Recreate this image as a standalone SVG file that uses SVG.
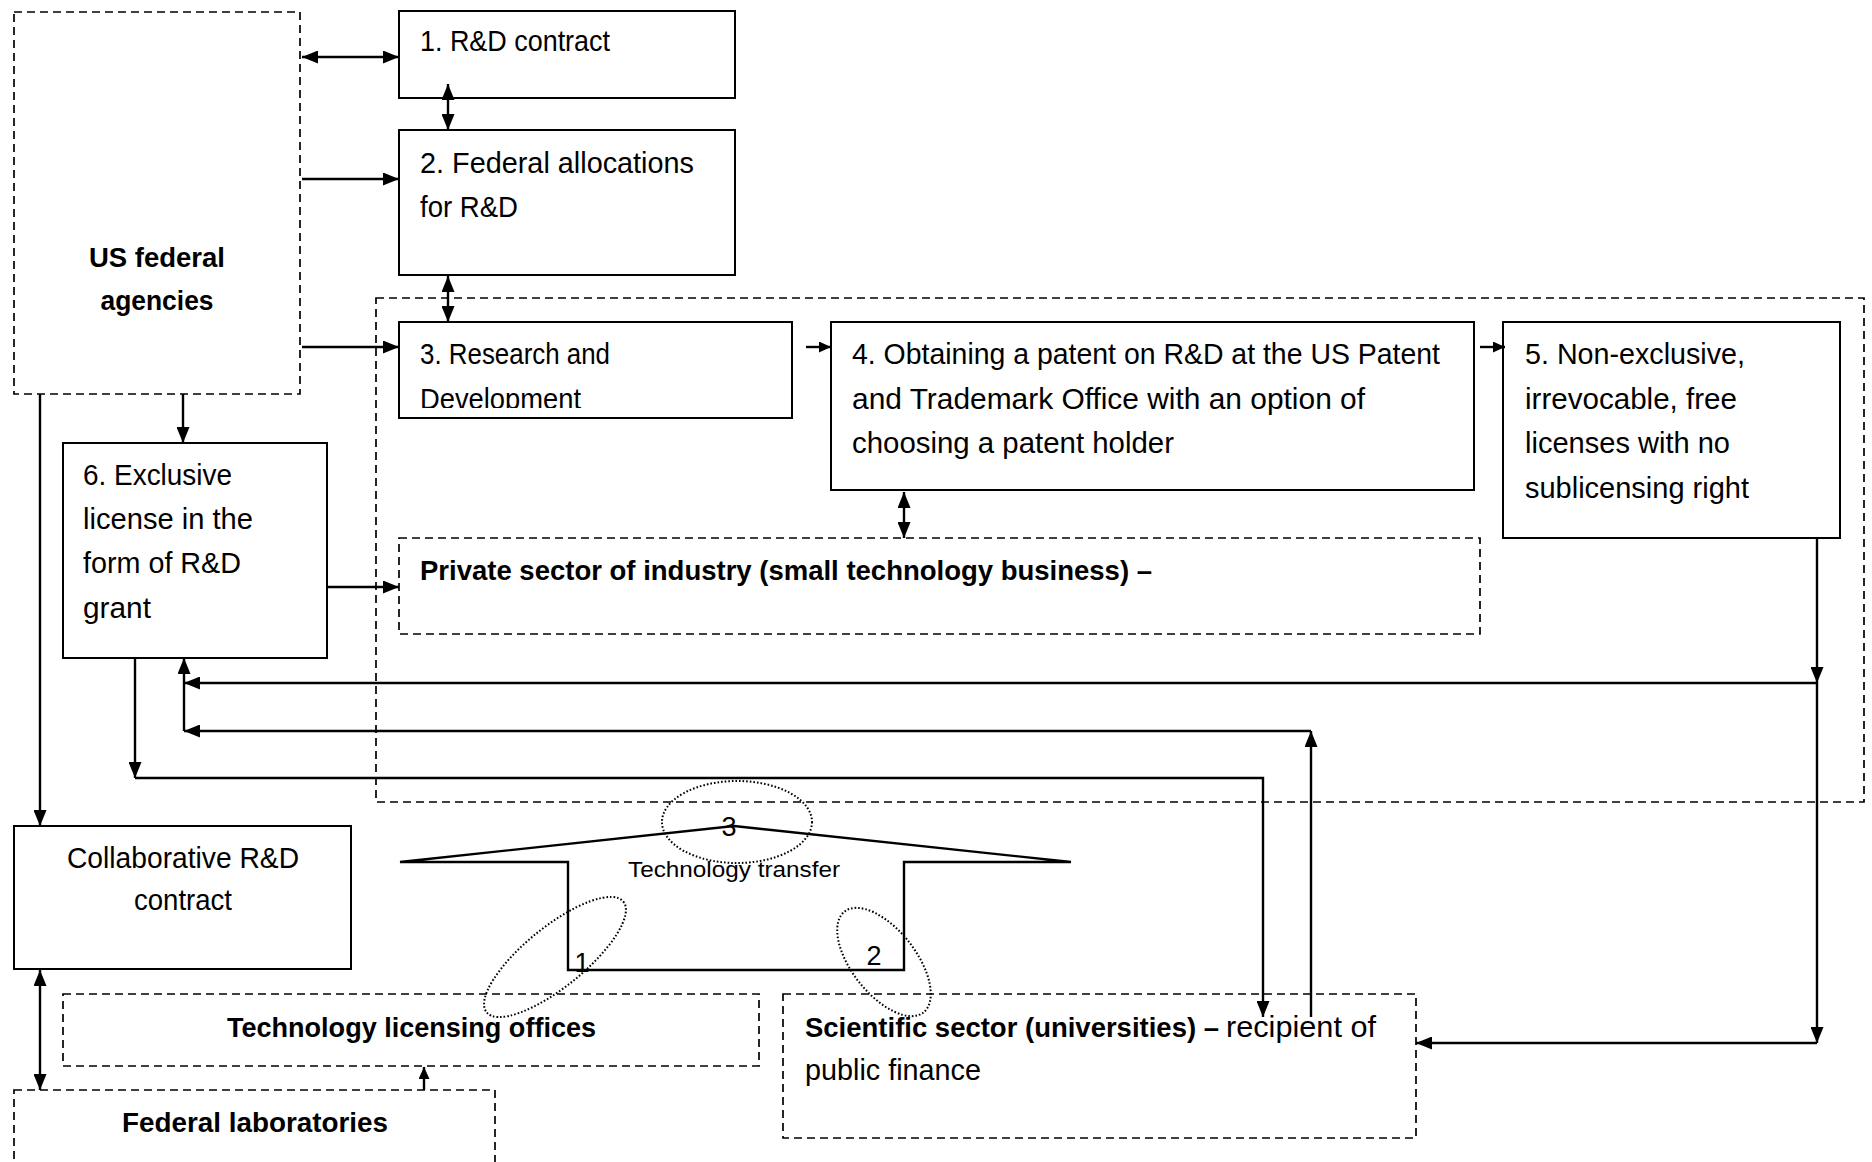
<svg xmlns="http://www.w3.org/2000/svg" width="1872" height="1162" viewBox="0 0 1872 1162">
  <style>
    .box { fill: #fff; stroke: #000; stroke-width: 2; }
    .dbox { fill: none; stroke: #000; stroke-width: 1.7; stroke-dasharray: 8 5; }
    .dot { fill: none; stroke: #000; stroke-width: 2; stroke-dasharray: 1.6 2; }
    .ln { fill: none; stroke: #000; stroke-width: 2.4; }
    .t { font-family: "Liberation Sans", Arial, sans-serif; font-size: 29px; fill: #000; }
    .b { font-family: "Liberation Sans", Arial, sans-serif; font-size: 28px; font-weight: bold; fill: #000; }
    .s { font-family: "Liberation Sans", Arial, sans-serif; font-size: 22px; fill: #000; }
    .n { font-family: "Liberation Sans", Arial, sans-serif; font-size: 27px; fill: #000; text-anchor: middle; }
  </style>
  <defs>
    <marker id="arr" markerUnits="userSpaceOnUse" markerWidth="16" markerHeight="13" refX="16" refY="6.5" orient="auto-start-reverse">
      <path d="M0,0 L16,6.5 L0,13 z" fill="#000"/>
    </marker>
    <marker id="arrS" markerUnits="userSpaceOnUse" markerWidth="12" markerHeight="11" refX="12" refY="5.5" orient="auto-start-reverse">
      <path d="M0,0 L12,5.5 L0,11 z" fill="#000"/>
    </marker>
    <clipPath id="clip3">
      <rect x="399" y="322" width="393" height="86"/>
    </clipPath>
  </defs>
  <rect width="1872" height="1162" fill="#fff"/>

  <!-- outer dashed frame around the R&D chain -->
  <rect id="frame" class="dbox" x="376" y="298" width="1488" height="504"/>

  <g id="agencies">
    <rect class="dbox" x="14" y="12" width="286" height="382"/>
    <text class="b" x="157" y="267" text-anchor="middle" textLength="136" lengthAdjust="spacingAndGlyphs">US federal</text>
    <text class="b" x="157" y="310" text-anchor="middle" textLength="113" lengthAdjust="spacingAndGlyphs">agencies</text>
  </g>

  <g id="n1">
    <rect class="box" x="399" y="11" width="336" height="87"/>
    <text class="t" x="420" y="51" textLength="190" lengthAdjust="spacingAndGlyphs">1. R&amp;D contract</text>
  </g>

  <g id="n2">
    <rect class="box" x="399" y="130" width="336" height="145"/>
    <text class="t" x="420" y="173" textLength="274" lengthAdjust="spacingAndGlyphs">2. Federal allocations</text>
    <text class="t" x="420" y="217" textLength="98" lengthAdjust="spacingAndGlyphs">for R&amp;D</text>
  </g>

  <g id="n3">
    <rect class="box" x="399" y="322" width="393" height="96"/>
    <text class="t" x="420" y="364" textLength="190" lengthAdjust="spacingAndGlyphs">3. Research and</text>
    <text class="t" x="420" y="409" textLength="161" lengthAdjust="spacingAndGlyphs" clip-path="url(#clip3)">Development</text>
  </g>

  <g id="n4">
    <rect class="box" x="831" y="322" width="643" height="168"/>
    <text class="t" x="852" y="364" textLength="588" lengthAdjust="spacingAndGlyphs">4. Obtaining a patent on R&amp;D at the US Patent</text>
    <text class="t" x="852" y="409" textLength="513" lengthAdjust="spacingAndGlyphs">and Trademark Office with an option of</text>
    <text class="t" x="852" y="453" textLength="322" lengthAdjust="spacingAndGlyphs">choosing a patent holder</text>
  </g>

  <g id="n5">
    <rect class="box" x="1503" y="322" width="337" height="216"/>
    <text class="t" x="1525" y="364" textLength="220" lengthAdjust="spacingAndGlyphs">5. Non-exclusive,</text>
    <text class="t" x="1525" y="409" textLength="212" lengthAdjust="spacingAndGlyphs">irrevocable, free</text>
    <text class="t" x="1525" y="453" textLength="205" lengthAdjust="spacingAndGlyphs">licenses with no</text>
    <text class="t" x="1525" y="498" textLength="224" lengthAdjust="spacingAndGlyphs">sublicensing right</text>
  </g>

  <g id="n6">
    <rect class="box" x="63" y="443" width="264" height="215"/>
    <text class="t" x="83" y="485" textLength="149" lengthAdjust="spacingAndGlyphs">6. Exclusive</text>
    <text class="t" x="83" y="529" textLength="170" lengthAdjust="spacingAndGlyphs">license in the</text>
    <text class="t" x="83" y="573" textLength="158" lengthAdjust="spacingAndGlyphs">form of R&amp;D</text>
    <text class="t" x="83" y="618" textLength="68" lengthAdjust="spacingAndGlyphs">grant</text>
  </g>

  <g id="private">
    <rect class="dbox" x="399" y="538" width="1081" height="96"/>
    <text class="b" x="420" y="580" textLength="732" lengthAdjust="spacingAndGlyphs">Private sector of industry (small technology business) –</text>
  </g>

  <g id="collab">
    <rect class="box" x="14" y="826" width="337" height="143"/>
    <text class="t" x="183" y="868" text-anchor="middle" textLength="232" lengthAdjust="spacingAndGlyphs">Collaborative R&amp;D</text>
    <text class="t" x="183" y="910" text-anchor="middle" textLength="98" lengthAdjust="spacingAndGlyphs">contract</text>
  </g>

  <g id="tlo">
    <rect class="dbox" x="63" y="994" width="696" height="72"/>
    <text class="b" x="227" y="1037" textLength="369" lengthAdjust="spacingAndGlyphs">Technology licensing offices</text>
  </g>

  <g id="labs">
    <rect class="dbox" x="14" y="1090" width="481" height="80"/>
    <text class="b" x="122" y="1132" textLength="266" lengthAdjust="spacingAndGlyphs">Federal laboratories</text>
  </g>

  <g id="science">
    <rect class="dbox" x="783" y="994" width="633" height="144"/>
    <text class="b" x="805" y="1037" textLength="414" lengthAdjust="spacingAndGlyphs">Scientific sector (universities) –</text>
    <text class="t" x="1226" y="1037" textLength="150" lengthAdjust="spacingAndGlyphs">recipient of</text>
    <text class="t" x="805" y="1080" textLength="176" lengthAdjust="spacingAndGlyphs">public finance</text>
  </g>

  <g id="transfer">
    <path class="ln" d="M400,862 L734,826 L1071,862 L904,862 L904,970 L568,970 L568,862 Z"/>
    <text class="s" x="628" y="877" textLength="212" lengthAdjust="spacingAndGlyphs">Technology transfer</text>
    <text class="n" x="729" y="836">3</text>
    <text class="n" x="582" y="972">1</text>
    <text class="n" x="874" y="965">2</text>
    <ellipse class="dot" cx="737" cy="822" rx="75" ry="41"/>
    <ellipse class="dot" cx="555" cy="957" rx="88" ry="30" transform="rotate(-39 555 957)"/>
    <ellipse class="dot" cx="884" cy="962" rx="64" ry="32" transform="rotate(52 884 962)"/>
  </g>

  <g id="connectors">
    <path class="ln" d="M302,57 H399" marker-start="url(#arr)" marker-end="url(#arr)"/>
    <path class="ln" d="M448,84 V130" marker-start="url(#arr)" marker-end="url(#arr)"/>
    <path class="ln" d="M302,179 H399" marker-end="url(#arr)"/>
    <path class="ln" d="M448,276 V322" marker-start="url(#arr)" marker-end="url(#arr)"/>
    <path class="ln" d="M302,347 H399" marker-end="url(#arr)"/>
    <path class="ln" d="M806,347 H831" marker-end="url(#arrS)"/>
    <path class="ln" d="M1480,347 H1505" marker-end="url(#arrS)"/>
    <path class="ln" d="M904,492 V538" marker-start="url(#arr)" marker-end="url(#arr)"/>
    <path class="ln" d="M183,394 V443" marker-end="url(#arr)"/>
    <path class="ln" d="M40,394 V826" marker-end="url(#arr)"/>
    <path class="ln" d="M327,587 H399" marker-end="url(#arr)"/>
    <!-- licences from node 5 back to the grant and on to the universities -->
    <path class="ln" d="M1817,538 V683" marker-end="url(#arr)"/>
    <path class="ln" d="M1817,683 V1043" marker-end="url(#arr)"/>
    <path class="ln" d="M1817,683 H184" marker-end="url(#arr)"/>
    <path class="ln" d="M1817,1043 H1416" marker-end="url(#arr)"/>
    <!-- universities back to node 6 -->
    <path class="ln" d="M1311,1017 V731" marker-end="url(#arr)"/>
    <path class="ln" d="M1311,731 H184" marker-end="url(#arr)"/>
    <path class="ln" d="M184,731 V658" marker-end="url(#arr)"/>
    <!-- node 6 down to the universities -->
    <path class="ln" d="M135,658 V778" marker-end="url(#arr)"/>
    <path class="ln" d="M135,778 H1263 V1017" marker-end="url(#arr)"/>
    <path class="ln" d="M40,970 V1090" marker-start="url(#arr)" marker-end="url(#arr)"/>
    <path class="ln" d="M424,1090 V1067" marker-end="url(#arrS)"/>
  </g>
</svg>
